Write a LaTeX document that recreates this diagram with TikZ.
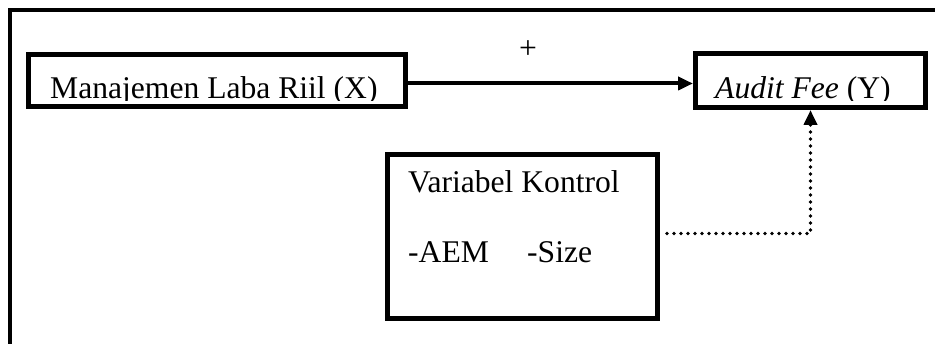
\documentclass[tikz,border=0pt]{standalone}
\usepackage{fontspec}
\setmainfont{Liberation Serif}
\usetikzlibrary{arrows.meta}
\begin{document}
\begin{tikzpicture}[x=1pt,y=-1pt,
  box/.style={draw=black, line width=5pt, fill=none, inner sep=0pt, anchor=north west},
  lbl/.style={inner sep=0pt, anchor=base west, font=\fontsize{31.6}{38}\selectfont},
  arr/.style={line width=4pt, -{Triangle[length=15pt,width=13pt]}},
  dotarr/.style={line width=3.8pt, line cap=round, dash pattern=on 0pt off 7pt, -{Triangle[length=15pt,width=13pt]}}]
\useasboundingbox (0,0) rectangle (935,344);
\clip (0,0) rectangle (935,344);
% outer frame (right and bottom edges lie beyond the page)
\draw[line width=4pt] (10,360) -- (10,10) -- (950,10);
% boxes
\node[box, minimum width=377pt, minimum height=52pt] (X) at (26,52) {};
\node[box, minimum width=230pt, minimum height=54pt] (Y) at (693,51) {};
\node[box, minimum width=270pt, minimum height=164pt] (K) at (385,152) {};
% clipped box texts
\begin{scope}
  \clip (28,54) rectangle (401,101);
  \node[lbl] (xt) at (50,99) {Manajemen Laba Riil (X)};
\end{scope}
\begin{scope}
  \clip (695,53) rectangle (921,101);
  \node[lbl] (yt) at (715,99) {\textit{Audit Fee} (Y)};
\end{scope}
\node[lbl] (k1) at (408,193) {Variabel Kontrol};
\node[lbl] (k2) at (408,263) {-AEM};
\node[lbl] (k3) at (527,263) {-Size};
% connectors
\draw[arr] ([yshift=-3pt]X.east) -- ([yshift=-3pt]Y.west);
\node[inner sep=0pt, font=\fontsize{31.6}{38}\selectfont] (plus) at (528,50) {+};
\draw[dotarr] ([shift={(7pt,3pt)}]K.east) -| (Y.south);
\end{tikzpicture}
\end{document}
